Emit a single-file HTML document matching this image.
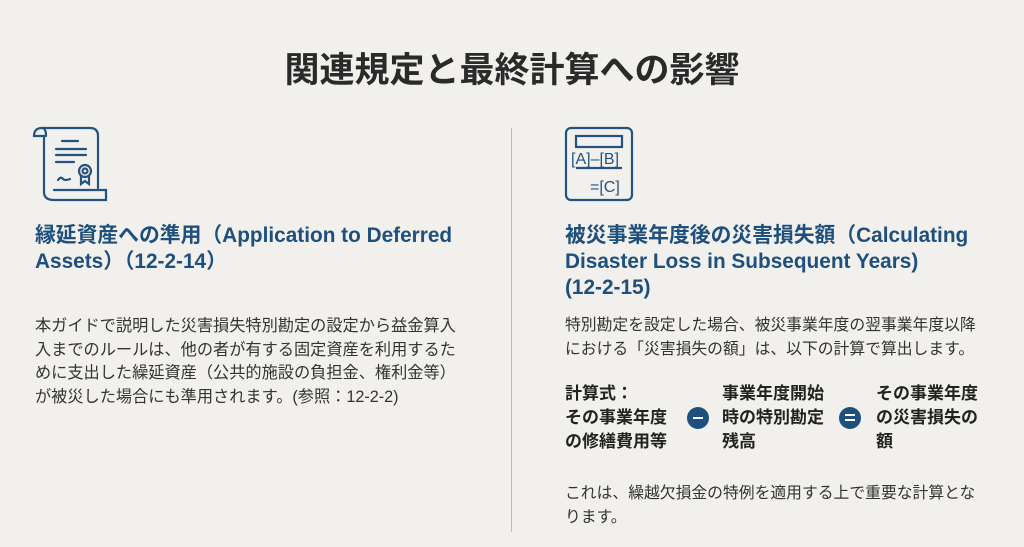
<!DOCTYPE html>
<html><head><meta charset="utf-8"><style>
body{margin:0;width:1024px;height:547px;background:#f1f0ec;font-family:"Liberation Sans","Noto Sans CJK JP",sans-serif;position:relative;overflow:hidden;color:#2b2b2b}
.a{position:absolute;white-space:nowrap}
h1{position:absolute;top:42px;left:0;width:1024px;text-align:center;margin:0;font-size:35px;font-weight:bold;color:#2a2a2a}
.h{color:#1f4f7d;font-weight:bold;font-size:20.8px;line-height:26px}
.b{font-size:16.2px;line-height:23.5px;color:#333}
.r{font-size:15.8px}
.f{font-size:17px;line-height:24px;font-weight:bold;color:#222}
.op{position:absolute;width:22px;height:22px;border-radius:50%;background:#1f4f7d}
</style></head><body>
<h1>関連規定と最終計算への影響</h1>
<div style="position:absolute;left:511px;top:128px;width:1px;height:404px;background:#bbb"></div>
<svg class="a" style="left:30px;top:122px" width="84" height="84" viewBox="0 0 84 84" fill="none" stroke="#245382" stroke-width="2.2" stroke-linecap="round">
<path d="M12 6 H60 Q68 6 68 14 V66"/><path d="M12 6 Q4 6 4 14 H14 V70 Q14 78 24 78 H76 V68 H24"/><path d="M12 6 Q16 6 16 14"/>
<line x1="32" y1="19" x2="48" y2="19"/><line x1="26" y1="27" x2="56" y2="27"/><line x1="26" y1="33" x2="56" y2="33"/><line x1="26" y1="40" x2="44" y2="40"/>
<circle cx="55" cy="49" r="6"/><circle cx="55" cy="49" r="2.5"/><path d="M51 54 V62 L55 59 L59 62 V54"/><path d="M28 58 Q31 54 33 57 Q35 59 40 57"/>
</svg>
<div class="a h" style="left:35px;top:223px">縁延資産への準用（Application to Deferred<br>Assets）（12-2-14）</div>
<div class="a b" style="left:35px;top:315px">本ガイドで説明した災害損失特別勘定の設定から益金算入<br>入までのルールは、他の者が有する固定資産を利用するた<br>めに支出した繰延資産（公共的施設の負担金、権利金等）<br>が被災した場合にも準用されます。(参照：12-2-2)</div>
<svg class="a" style="left:562px;top:124px" width="74" height="80" viewBox="0 0 74 80" fill="none" stroke="#245382" stroke-width="2.2">
<rect x="4" y="4" width="66" height="72" rx="5"/><rect x="14" y="12" width="46" height="11"/>
<line x1="14" y1="44" x2="60" y2="44"/>
<text x="9" y="40" font-size="16" fill="#245382" stroke="none" font-family="Liberation Sans">[A]–[B]</text>
<text x="28" y="68" font-size="16" fill="#245382" stroke="none" font-family="Liberation Sans">=[C]</text>
</svg>
<div class="a h" style="left:565px;top:223px">被災事業年度後の災害損失額（Calculating<br>Disaster Loss in Subsequent Years)<br>(12-2-15)</div>
<div class="a b r" style="left:565px;top:314px">特別勘定を設定した場合、被災事業年度の翌事業年度以降<br>における「災害損失の額」は、以下の計算で算出します。</div>
<div class="a f" style="left:565px;top:382px">計算式：<br>その事業年度<br>の修繕費用等</div>
<div class="op" style="left:687px;top:407px"><div style="position:absolute;left:6px;top:10px;width:10px;height:2px;background:#fff"></div></div>
<div class="a f" style="left:722px;top:382px">事業年度開始<br>時の特別勘定<br>残高</div>
<div class="op" style="left:839px;top:407px"><div style="position:absolute;left:6px;top:7px;width:10px;height:2px;background:#fff"></div><div style="position:absolute;left:6px;top:12px;width:10px;height:2px;background:#fff"></div></div>
<div class="a f" style="left:876px;top:382px">その事業年度<br>の災害損失の<br>額</div>
<div class="a b r" style="left:565px;top:482px">これは、繰越欠損金の特例を適用する上で重要な計算とな<br>ります。</div>
</body></html>
